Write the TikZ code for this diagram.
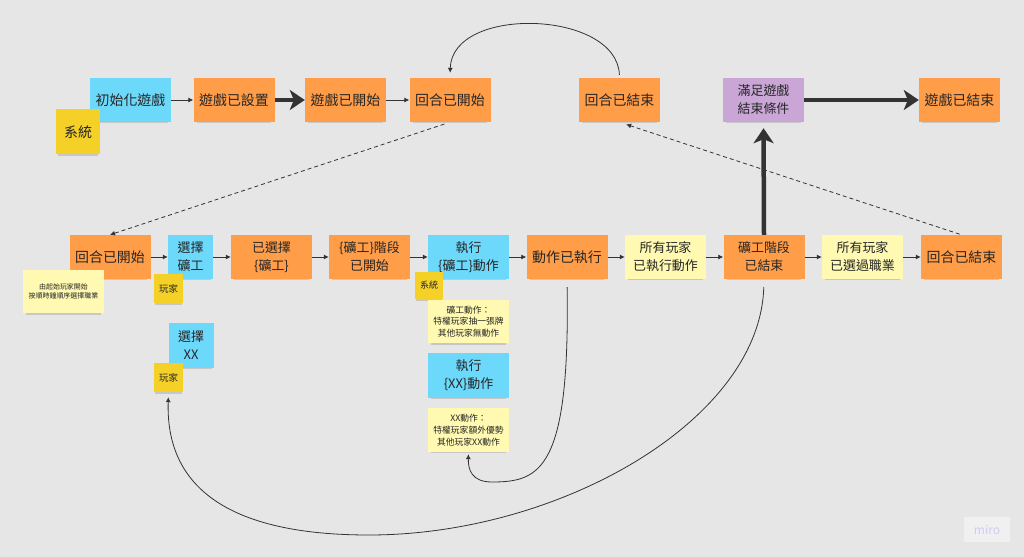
\documentclass[tikz,border=0pt]{standalone}
\usepackage{fontspec}
\setmainfont{Noto Sans CJK TC}
\usepackage{tikz}
\usepackage{xcolor}
\usetikzlibrary{arrows.meta,shadows}

\definecolor{bgray}{HTML}{E6E6E6}
\definecolor{eventor}{HTML}{FF9D48}
\definecolor{cmdblue}{HTML}{6CD8FA}
\definecolor{actoryl}{HTML}{F5D128}
\definecolor{policyyl}{HTML}{FFF9B1}
\definecolor{goalpu}{HTML}{C9A6D6}
\definecolor{inkgray}{HTML}{333333}

\begin{document}
\begin{tikzpicture}[x=1bp,y=-1bp]
            \tikzstyle{every node}+=[inner sep=0pt, text=black!85, align=center]
            \tikzstyle{sticky}=[minimum height=44bp, drop shadow={shadow xshift=0bp, shadow yshift=-3.5bp, shadow scale=0.92, opacity=0.3}]
            \tikzstyle{event}=[sticky, fill=eventor, minimum width=81bp]
            \tikzstyle{command}=[sticky, fill=cmdblue, minimum width=81bp]
            \tikzstyle{goal}=[sticky, fill=goalpu, minimum width=81bp]
            \tikzstyle{policy}=[sticky, fill=policyyl, minimum width=81bp]
            \tikzstyle{actor}=[sticky, fill=actoryl]
            \tikzstyle{one}=[font=\fontsize{14}{18}\selectfont]
            \tikzstyle{two}=[font=\fontsize{13}{18}\selectfont]
            \tikzstyle{tiny}=[font=\fontsize{8.8}{11.8}\selectfont]
            \tikzstyle{link}=[draw=inkgray, line width=0.8bp, -{Latex[length=5bp,width=5bp]}]
            \tikzstyle{heavy}=[draw=black!80, line width=4.5bp, -{Stealth[length=15bp,width=20bp,inset=4bp]}]
            \tikzstyle{dlink}=[link, dash pattern=on 4bp off 3bp]
            \useasboundingbox[fill=bgray] (0,0) rectangle (1024,557);
            % top row
            \node [command, one] (init) at (130.5,100) {初始化遊戲};
            \node [actor, one, minimum width=44bp, minimum height=45bp] (sys) at (78,132) {系統};
            \node [event, one] (setup) at (234,100) {遊戲已設置};
            \node [event, one] (gstart) at (345.5,100) {遊戲已開始};
            \node [event, one] (rstart) at (450,100) {回合已開始};
            \node [event, one] (rend) at (619.5,100) {回合已結束};
            \node [goal, two] (cond) at (763.5,100) {滿足遊戲\\結束條件};
            \node [event, one] (gend) at (959.5,100) {遊戲已結束};
            % middle row
            \node [event, one] (mstart) at (110,257) {回合已開始};
            \node [policy, font=\fontsize{7}{9.5}\selectfont, minimum height=43bp] (order) at (63.5,291.5) {由起始玩家開始\\按順時鐘順序選擇職業};
            \node [command, two, minimum width=45bp] (pick) at (190.5,257) {選擇\\礦工};
            \node [actor, font=\fontsize{9.5}{12}\selectfont, minimum width=29bp, minimum height=29bp] (player) at (168.5,288.5) {玩家};
            \node [event, two] (picked) at (271.5,257) {已選擇\\\{礦工\}};
            \node [event, two] (phase) at (369.5,257) {\{礦工\}階段\\已開始};
            \node [command, two] (exec) at (468.5,257) {執行\\\{礦工\}動作};
            \node [actor, font=\fontsize{9}{12}\selectfont, minimum width=28bp, minimum height=27bp] (sys2) at (429,285.5) {系統};
            \node [policy, tiny, minimum height=43bp] (minernote) at (468.5,321.5) {礦工動作：\\特權玩家抽一張牌\\其他玩家無動作};
            \node [command, two] (xexec) at (468.5,375.5) {執行\\\{XX\}動作};
            \node [policy, tiny, minimum height=44bp] (xxnote) at (468.5,430) {XX動作：\\特權玩家額外優勢\\其他玩家XX動作};
            \node [event, one] (done) at (567,257) {動作已執行};
            \node [policy, two] (alldone) at (665.5,257) {所有玩家\\已執行動作};
            \node [event, two] (phend) at (764,257) {礦工階段\\已結束};
            \node [policy, two] (allpick) at (862.5,257) {所有玩家\\已選過職業};
            \node [event, one] (mend) at (961.5,257) {回合已結束};
            \node [command, two, minimum width=45bp, minimum height=45bp] (pickx) at (191,345.5) {選擇\\XX};
            \node [actor, font=\fontsize{9.5}{12}\selectfont, minimum width=29bp, minimum height=29bp] (player2) at (168.5,377.5) {玩家};
            \node [fill=bgray!60!white, text=black!25!blue!20!white, font=\fontsize{12}{14}\selectfont, minimum width=46bp, minimum height=25bp] (logo) at (987,529.5) {miro};
            % connectors
            \draw [link] (init) -- (setup);
            \draw [heavy, line width=4bp] (setup) -- (gstart);
            \draw [link] (gstart) -- (rstart);
            \draw [heavy] (cond) -- (gend);
            \draw [link, shorten <=3bp, shorten >=5bp] (rend.north) .. controls (617,10) and (452,5) .. (rstart.north);
            \draw [dlink, shorten <=6bp] (rstart.south) -- (mstart.north);
            \draw [dlink, shorten <=2bp, shorten >=7bp] (mend.north) -- (rend.south);
            \draw [link] (mstart) -- (pick);
            \draw [link] (pick) -- (picked);
            \draw [link] (picked) -- (phase);
            \draw [link] (phase) -- (exec);
            \draw [link] (exec) -- (done);
            \draw [link] (done) -- (alldone);
            \draw [link] (alldone) -- (phend);
            \draw [link] (phend) -- (allpick);
            \draw [link] (allpick) -- (mend);
            \draw [heavy, shorten >=6bp] (phend.north) -- (cond.south);
            \draw [link, shorten <=8bp, shorten >=2bp] (done.south) .. controls (570,470) and (540,482) .. (492,482) .. controls (472,482) and (468,470) .. (xxnote.south);
            \draw [link, shorten <=8bp, shorten >=5bp] (phend.south) .. controls (760,420) and (560,535) .. (369,535) .. controls (205,535) and (166,470) .. (player2.south);
        \end{tikzpicture}
\end{document}
